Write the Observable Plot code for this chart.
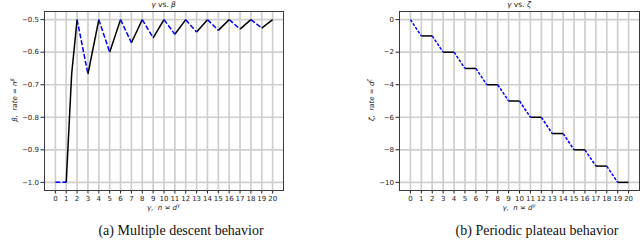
<!DOCTYPE html>
<html><head><meta charset="utf-8">
<script src="https://cdn.jsdelivr.net/npm/d3@7"></script>
<script src="https://cdn.jsdelivr.net/npm/@observablehq/plot@0.6"></script>
<style>
html,body{margin:0;padding:0;background:#fff;}
#wrap{position:relative;width:640px;height:252px;overflow:hidden;font-family:"DejaVu Sans",sans-serif;}
.abs{position:absolute;white-space:nowrap;transform:translate(-50%,-50%);line-height:1;}
.t{font-size:7.5px;color:#222;}
.m{font-size:7px;font-style:italic;color:#222;}
.cap{font-family:"Liberation Serif","Times New Roman",Times,serif !important;font-size:14px;color:#111;}
sup{font-size:5px;vertical-align:3px;line-height:0;}
</style></head><body>
<div id="wrap"></div>
<script>
// Left panel: gamma vs beta
const gammaB = [0, 1, 1.5, 2, 3, 4, 5, 6, 7, 8, 9, 10, 11, 12, 13, 14, 15, 16, 17, 18, 19, 20];
const betaB  = [-1, -1, -0.667, -0.5, -0.667, -0.5, -0.6, -0.5, -0.571, -0.5, -0.556, -0.5, -0.545, -0.5, -0.538, -0.5, -0.533, -0.5, -0.529, -0.5, -0.526, -0.5];
// Right panel: gamma vs zeta
const gammaZ = [0,1,2,3,4,5,6,7,8,9,10,11,12,13,14,15,16,17,18,19,20];
const zetaZ  = [0,-1,-1,-2,-2,-3,-3,-4,-4,-5,-5,-6,-6,-7,-7,-8,-8,-9,-9,-10,-10];
const xTicks = d3.range(0, 21);
const yTicksB = [-1.0, -0.9, -0.8, -0.7, -0.6, -0.5];
const yTicksZ = [-10, -8, -6, -4, -2, 0];

function segs(xs, ys, isBlue) {
  const out = [];
  for (let i = 0; i < xs.length - 1; i++) {
    out.push({x1: xs[i], y1: ys[i], x2: xs[i+1], y2: ys[i+1], blue: isBlue(xs[i], ys[i], ys[i+1])});
  }
  return out;
}
const segB = segs(gammaB, betaB, (x) => Math.floor(x) % 2 === 0);
const segZ = segs(gammaZ, zetaZ, (x, a, b) => a !== b);

function panel(opts) {
  return Plot.plot({
    width: 320, height: 215,
    marginLeft: opts.ml, marginRight: opts.mr, marginTop: 11, marginBottom: 25,
    style: {fontFamily: "DejaVu Sans", fontSize: "7px", background: "transparent", color: "#222", overflow: "visible"},
    x: {domain: [-1, 21], ticks: xTicks, tickFormat: "d", label: null, tickSize: 3.5, tickPadding: 2},
    y: {domain: opts.ydom, ticks: opts.yticks, tickFormat: opts.fmt, label: null, tickSize: 3.5, tickPadding: 2},
    marks: [
      Plot.ruleX(xTicks, {stroke: "#cfcfcf", strokeWidth: 1.7}),
      Plot.ruleY(opts.yticks, {stroke: "#cfcfcf", strokeWidth: 1.7}),
      Plot.link(opts.segs.filter(d => !d.blue), {x1: "x1", y1: "y1", x2: "x2", y2: "y2", stroke: "black", strokeWidth: 1.5}),
      Plot.link(opts.segs.filter(d => d.blue), {x1: "x1", y1: "y1", x2: "x2", y2: "y2", stroke: "#0000ff", strokeWidth: 1.5, strokeDasharray: opts.dash}),
      Plot.frame({stroke: "#3a3a3a", strokeWidth: 1})
    ]
  });
}

const wrap = document.getElementById("wrap");
const left = panel({ml: 44, mr: 37, ydom: [-1.025, -0.475], yticks: yTicksB, fmt: d3.format(".1f"), segs: segB, dash: "5,2"});
const right = panel({ml: 79, mr: 1, ydom: [-10.5, 0.5], yticks: yTicksZ, fmt: d3.format("d"), segs: segZ, dash: "3,1.5"});
left.style.position = "absolute"; left.style.left = "0px"; left.style.top = "0px";
right.style.position = "absolute"; right.style.left = "320px"; right.style.top = "0px";
wrap.appendChild(left); wrap.appendChild(right);

function label(html, x, y, cls, rot) {
  const d = document.createElement("div");
  d.className = "abs " + cls;
  d.innerHTML = html;
  d.style.left = x + "px"; d.style.top = y + "px";
  if (rot) d.style.transform = "translate(-50%,-50%) rotate(-90deg)";
  wrap.appendChild(d);
  return d;
}
label("<i>γ</i> vs. <i>β</i>", 163.5, 5, "t");
label("<i>γ</i> vs. <i>ζ</i>", 519, 5, "t");
label("γ,&nbsp; n ≍ d<sup>γ</sup>", 163.5, 208, "m");
label("γ,&nbsp; n ≍ d<sup>γ</sup>", 519, 208, "m");
label("β,&nbsp; rate = n<sup>β</sup>", 15, 100, "m", true);
label("ζ,&nbsp; rate = d<sup>ζ</sup>", 372, 100, "m", true);
const ca = label("(a) Multiple descent behavior", 181, 231, "cap");
const cb = label("(b) Periodic plateau behavior", 537, 231, "cap");
ca.style.fontFamily = cb.style.fontFamily = "'Liberation Serif', serif";
</script>
</body></html>
